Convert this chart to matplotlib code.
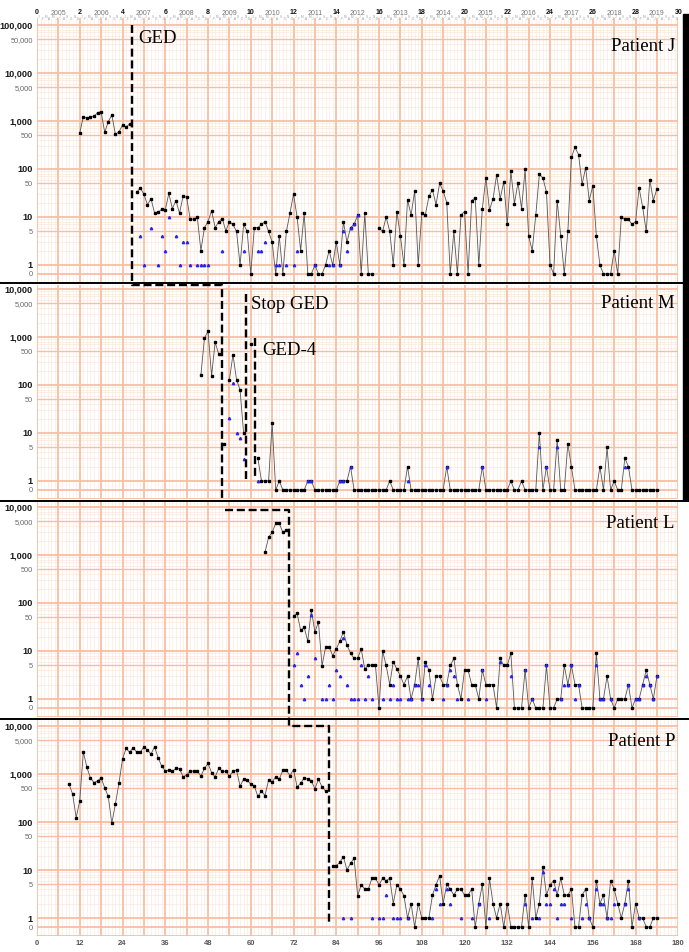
import numpy as np
import matplotlib
matplotlib.use('Agg')
import matplotlib.pyplot as plt
from matplotlib.lines import Line2D
from matplotlib.patches import Rectangle
from matplotlib.ticker import NullLocator

# ---- data (month index, value; None = no sample) ----
j_start = 12
j_black = [560, 1240, 1150, 1200, 1250, 1490, 1560, 580, 970, 1330,
           530, 590, 820, 750, 870, None, 33, 40, 30, 18,
           24, 12, 12.5, 14.5, 14, 31, 15, 22, 12, 27,
           26, 9, 9, 9.8, 2, 6, 8, 13.5, 6, 8,
           9.3, 5.1, 8, 7, 5, 1, 7, 5, 0, 6,
           6, 7, 8, 5, 3, 0, 4, 0, 5, 12,
           30, 10, 2, 12, 0, 0, 1, 0, 0, 1,
           2, 1, 3, 1, 8, 3, 6, 7, 11, 0,
           12, 0, 0, None, 6, 5, 10, 5, 1, 13,
           4, 1, 23, 11, 35, 1, 12, 11, 27, 37,
           18, 50, 35, 20, 0, 5, 0, 11, 13, 0,
           22, 25, 1, 15, 66, 14, 24, 75, 24, 54,
           7, 90, 19, 52, 15, 98, 4, 2, 11, 77,
           65, 33, 1, 0, 22, 4, 0, 5, 175, 284,
           200, 48, 107, 22, 45, 4, 1, 0, 0, 0,
           2, 0, 10, 9, 9, 7, 8, 40, 16, 5,
           60, 22, 39]
j_blue_m = [29, 30, 32, 34, 35, 36, 37, 39, 40, 41, 42, 43, 45, 46, 47, 48, 52, 58,
            62, 63, 64, 67, 68, 70, 72, 73, 78, 82, 83, 85, 86, 87, 88, 89, 90]
j_blue_v = [4, 1, 6, 1, 4, 2, 10, 4, 1, 3, 3, 1, 1, 1, 1, 1, 2, 2,
            2, 2, 3, 1, 1, 1, 1, 2, 1, 1, 1, 1, 5, 2, 6, 7, 11]

m_start = 46
m_black = [162, 940, 1330, 155, 780, 440, None, None, 127, 430,
           130, 79, 9.8, None, 720, None, 3, 1, 1, 1,
           16, 0, 1, 0, 0, 0, 0, 0, 0, 0,
           1, 1, 0, 0, 0, 0, 0, 0, 0, 1,
           1, 1, 2, 0, 0, 0, 0, 0, 0, 0,
           0, 0, 0, 1, 0, 0, 0, 0, 2, 0,
           0, 0, 0, 0, 0, 0, 0, 0, 0, 2,
           0, 0, 0, 0, 0, 0, 0, 0, 0, 2,
           0, 0, 0, 0, 0, 0, 0, 1, 0, 0,
           1, 0, 0, 0, 0, 10, 0, 2, 0, 0,
           7, 0, 0, 6, 2, 0, 0, 0, 0, 0,
           0, 0, 2, 0, 5, 0, 1, 0, 0, 3,
           2, 0, 0, 0, 0, 0, 0, 0, 0]
m_single_m = [52.5]
m_single_v = [6]
m_blue_m = [54, 55, 56, 57, 58, 62, 76, 77, 85, 86, 88, 104, 115, 125, 141, 143, 146, 165]
m_blue_v = [21, 108, 9.8, 7.8, 2.9, 1, 1, 1, 1, 1, 2, 1, 2, 2, 5, 2, 5, 2]

l_start = 64
l_black = [1140, 2340, 2950, 4570, 4570, 2950, 3300, None, 53, 61,
           27, 31, 16, 71, 25, 40, 4.9, 12, 12, 8,
           11, 16, 25, 13.3, 9, 7, 7, 11, 4.2, 5.1,
           5, 5, 0, 10, 5, 2, 6, 4.2, 3, 2,
           3, 1, 2, 7, 1, 6, 4, 1, 3, 3,
           2, 2, 5, 7, 2, 1, 4, 4, 2, 2,
           1, 4, 2, 2, 2, 0, 7, 5, 5, 9,
           0, 0, 0, 4, 0, 1, 0, 0, 0, 5,
           0, 0, 1, 1, 5, 2, 5, 2, 2, 0,
           0, 0, 0, 9, 1, 1, 3, 1, 0, 1,
           1, 1, 2, 0, 1, 1, 2, 4, 2, 1,
           3]
l_blue_m = [72, 73, 74, 75, 76, 77, 78, 80, 81, 82, 83, 84, 85, 86, 87, 88, 89, 90, 91,
            92, 93, 94, 97, 99, 100, 101, 102, 104, 105, 106, 107, 108, 109, 110, 114,
            115, 116, 117, 118, 121, 125, 126, 130, 133, 137, 139, 143, 147, 148, 149,
            150, 151, 152, 157, 158, 159, 161, 166, 168, 169, 170, 171, 172, 173, 174]
l_blue_v = [5, 9, 2, 1, 3, 57, 7, 1, 1, 2, 1, 4, 3, 18.6, 2, 1, 1, 1, 5,
            1, 3, 1, 1, 1, 2, 1, 1, 1, 1, 2, 2, 1, 5, 2, 1,
            2, 4, 3, 1, 1, 4, 1, 6, 3, 4, 1, 5, 1, 2, 2,
            5, 1, 2, 5, 1, 1, 1, 2, 1, 1, 2, 3, 2, 1, 3]

p_start = 9
p_black = [610, 380, 123, 275, 2900, 1380, 830, 660, 720, 830,
           520, 340, 94, 235, 640, 2050, 3430, 2830, 3550, 2830,
           2830, 3700, 3150, 2600, 3700, 2180, 1460, 1150, 1200, 1130,
           1310, 1280, 880, 950, 1150, 1150, 1150, 900, 1310, 1660,
           1070, 870, 1310, 1150, 1130, 900, 1130, 1200, 560, 780,
           750, 610, 560, 340, 440, 355, 750, 680, 880, 780,
           1200, 1200, 920, 1240, 540, 640, 830, 780, 720, 490,
           780, 540, 440, None, 12.3, 12.3, 14.4, 19, 10, 13.8,
           17.5, 2.9, 4.9, 4, 4, 6.7, 6.7, 4.9, 6.7, 6,
           6.7, 2, 4.9, 4, 2.9, 1, 2, 0, 2, 1,
           1, 1, 3, 4.9, 7.6, 2, 5, 4, 3, 4,
           4, 3, 3, 4, 0, 2, 5, 0, 6.7, 2,
           1, 2, 0, 2, 0, 0, 0, 0, 3, 0,
           6.7, 1, 2, 11.7, 3, 4.9, 6, 3, 6.7, 3,
           3, 4, 0, 0, 3, 4, 1, 0, 6, 2,
           3, 1, 6, 4, 2, 1, 2, 6, 0, 2,
           1, 1, 0, 0, 1, 1]
p_blue_m = [86, 88, 94, 96, 97, 98, 100, 101, 102, 104, 111, 112, 113, 115, 116, 119,
            122, 124, 127, 137, 139, 141, 142, 143, 144, 145, 146, 147, 148, 150, 153,
            154, 155, 157, 158, 159, 160, 161, 162, 165, 166, 169]
p_blue_v = [1, 1, 1, 1, 1, 3, 1, 1, 1, 1, 1, 4, 2, 4, 2, 1,
            1, 2, 1, 2, 1, 1, 9, 2, 2, 4, 1, 2, 2, 1, 1,
            2, 1, 4, 2, 2, 1, 1, 2, 2, 4, 1]

tick_vals = [0, 1, 5, 10, 50, 100, 500, 1000, 5000, 10000, 50000, 100000]
tick_text = ['0', '1', '5', '10', '50', '100', '500', '1,000', '5,000', '10,000', '50,000', '100,000']
top_numbers = list(range(0, 31, 2))
years = list(range(2005, 2020))
month_letters = 'JFMAMJJASOND'

# ---- layout in pixels ----
W, H = 689, 952
X0, X1 = 37, 678.3
DEC = 48.0          # pixels per decade
K = 0.1875          # "0" sits 9 px below "1"

MAJ = '#f9bea2'
MIN = '#fde5d9'


def fx(x):
    return x / W


def fy(y):
    return 1 - y / H


def fwd(v):
    v = np.asarray(v, dtype=float)
    return np.where(v >= 1, np.log10(np.maximum(v, 1)), (v - 1) * K)


def inv(y):
    y = np.asarray(y, dtype=float)
    return np.where(y >= 0, 10 ** np.maximum(y, 0), 1 + y / K)


plt.rcParams['font.family'] = 'Liberation Sans'
fig = plt.figure(figsize=(W / 100, H / 100), dpi=100)


def panel(top, bottom, start, black, blue_m, blue_v, name, name_base, max_tick, last=False):
    ax = fig.add_axes([fx(X0), fy(bottom), (X1 - X0) / W, (bottom - top) / H])
    ax.set_yscale('function', functions=(fwd, inv))
    top_units = (bottom - top) / DEC - 2 * K
    ax.set_ylim(-1, float(10 ** top_units))
    ax.set_xlim(0, 180)

    # graph paper
    for m in range(0, 181):
        if m % 6 == 0:
            ax.axvline(m, color=MAJ, lw=1.3, zorder=1)
        else:
            ax.axvline(m, color=MIN, lw=0.4, zorder=0)
    d = 1
    while d <= 100000:
        for k in (2, 3, 4, 6, 7, 8, 9):
            ax.axhline(k * d, color=MIN, lw=0.45, zorder=0)
        ax.axhline(d, color=MAJ, lw=1.3, zorder=1)
        ax.axhline(5 * d, color=MAJ, lw=1.0, zorder=1)
        d *= 10
    ax.axhline(0, color=MAJ, lw=1.3, zorder=1)
    ax.axhline(-1, color=MAJ, lw=1.3, zorder=1)

    x = start + np.arange(len(black))
    y = np.array(black, dtype=float)
    ax.plot(x, y, color='#555555', lw=0.6, marker='s', ms=1.8, mfc='black', mec='black', zorder=3)
    ax.plot(blue_m, blue_v, ls='none', marker='^', ms=1.7, color='#2525ee', zorder=4)

    vals = [v for v in tick_vals if v <= max_tick]
    ax.set_yticks(vals)
    ax.set_yticklabels(tick_text[:len(vals)])
    ax.yaxis.set_minor_locator(NullLocator())
    for lab, v in zip(ax.get_yticklabels(), vals):
        if v >= 1 and np.log10(v) % 1 == 0:
            lab.set_fontweight('bold')
            lab.set_fontsize(6.6)
            lab.set_color('#1a1a1a')
        else:
            lab.set_fontsize(5.3)
            lab.set_color('#666666')
    ax.tick_params(axis='y', length=0, pad=3)
    if last:
        ax.set_xticks(range(0, 181, 12))
        ax.tick_params(axis='x', length=0, pad=3, labelsize=5.5, labelcolor='#555555')
        for lab in ax.get_xticklabels():
            lab.set_fontweight('bold')
    else:
        ax.set_xticks([])
    for s in ax.spines.values():
        s.set_visible(False)

    fig.text(fx(675), fy(name_base), name, ha='right', va='baseline',
             family='Liberation Serif', fontsize=13.5)
    return ax


ax_j = panel(18, 283, j_start, j_black, j_blue_m, j_blue_v, 'Patient J', 51, 100000)
ax_m = panel(285, 499, m_start, m_black, m_blue_m, m_blue_v, 'Patient M', 308, 10000)
ax_m.plot(m_single_m, m_single_v, ls='none', marker='s', ms=1.8, color='black', zorder=3)
ax_l = panel(502, 717, l_start, l_black, l_blue_m, l_blue_v, 'Patient L', 528, 10000)
panel(720, 936, p_start, p_black, p_blue_m, p_blue_v, 'Patient P', 746, 10000, last=True)

# overlay: months across, pixels down
ov = fig.add_axes([fx(X0), 0, (X1 - X0) / W, 1])
ov.set_xlim(0, 180)
ov.set_ylim(H, 0)
ov.axis('off')
ov.patch.set_visible(False)

dash = dict(color='black', lw=1.7, ls=(0, (3.4, 1.6)), zorder=10)
ov.plot([26.6, 26.6, 51.9, 51.9], [25, 285, 285, 500], **dash)
ov.plot([52.8, 70.7, 70.7, 82.0, 82.0], [510, 510, 726, 726, 923], **dash)
ov.plot([58.6, 58.6], [294, 479], **dash)
ov.plot([61.2, 61.2], [338, 479], **dash)

# top time axis
for n in top_numbers:
    ov.text(6 * n, 12, str(n), ha='center', va='center', fontsize=5, fontweight='bold', color='#111111')
for i, yr in enumerate(years):
    ov.text(12 * i + 6, 13.5, str(yr), ha='center', va='center', fontsize=5, color='#777777')
for k in range(180):
    ov.text(k + 0.5, 17.2 if k % 2 == 0 else 18.6, month_letters[k % 12], ha='center',
            va='center', fontsize=2.2, color='#999999')

fig.text(fx(138), fy(43), 'GED', ha='left', va='baseline', family='Liberation Serif', fontsize=13.5)
fig.text(fx(250.5), fy(309), 'Stop GED', ha='left', va='baseline', family='Liberation Serif', fontsize=13.5)
fig.text(fx(262), fy(355), 'GED-4', ha='left', va='baseline', family='Liberation Serif', fontsize=13.5)

# panel frames
fig.add_artist(Line2D([0, fx(683)], [fy(283), fy(283)], color='black', lw=1.4))
fig.add_artist(Line2D([0, 1], [fy(500.5), fy(500.5)], color='black', lw=1.4))
fig.add_artist(Line2D([0, 1], [fy(719), fy(719)], color='black', lw=1.4))
fig.add_artist(Rectangle((fx(683), fy(500)), 6 / W, (500 - 14) / H, color='black'))

fig.savefig('out.png', dpi=100)
